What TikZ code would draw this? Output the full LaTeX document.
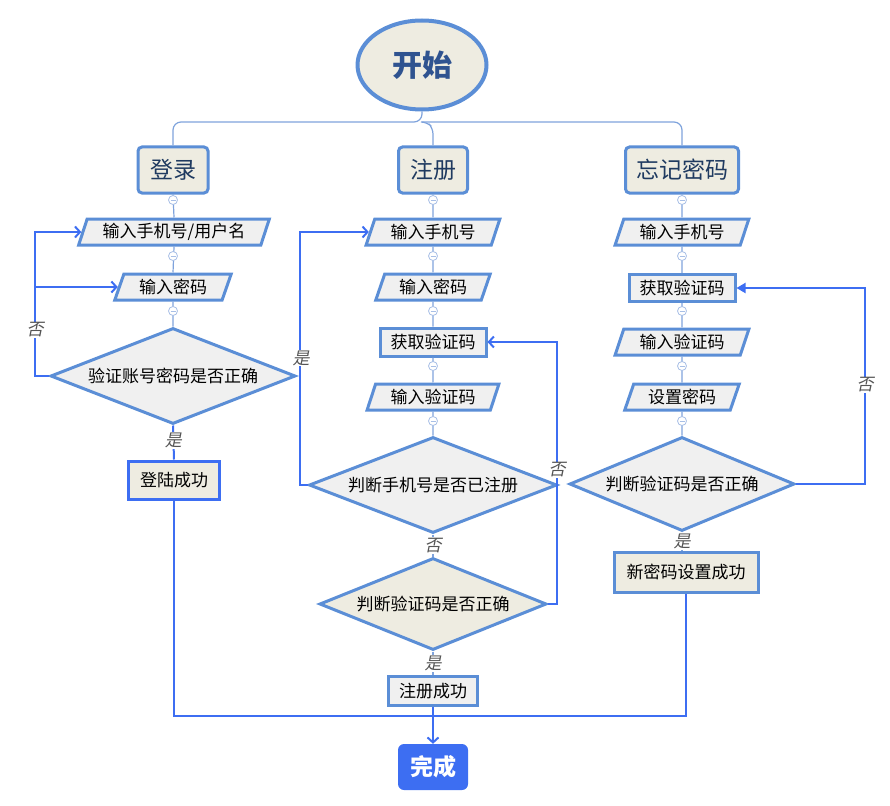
\documentclass[tikz,border=0pt]{standalone}
\usepackage{fontspec}
\setmainfont{Noto Sans CJK SC}
\newfontfamily\slantfont[FakeSlant=0.2]{Noto Sans CJK SC}
\usetikzlibrary{shapes.geometric,arrows.meta}
\definecolor{bordblue}{HTML}{5B8ED6}
\definecolor{linkblue}{HTML}{3D6EF2}
\definecolor{beige}{HTML}{EEECE1}
\definecolor{lgray}{HTML}{F0F0F0}
\definecolor{navy}{HTML}{1F3A60}
\definecolor{titleblue}{HTML}{2F5390}
\definecolor{treeline}{HTML}{7FA3DC}
\definecolor{collblue}{HTML}{A8BFE6}
\definecolor{lblgray}{HTML}{555555}
\begin{document}
\begin{tikzpicture}[x=1pt,y=-1pt,font=\fontsize{17}{19}\selectfont,
  para/.style={trapezium,trapezium left angle=70,trapezium right angle=110,trapezium stretches=true,
    draw=bordblue,line width=3pt,fill=lgray,minimum height=26pt,inner sep=1pt},
  procbox/.style={rectangle,draw=bordblue,line width=3pt,fill=lgray,inner sep=1pt},
  titlebox/.style={rectangle,rounded corners=4pt,draw=bordblue,line width=3pt,fill=beige,
    text=navy,font=\fontsize{23}{25}\selectfont,minimum height=46pt,inner sep=1pt},
  decision/.style={diamond,draw=bordblue,line width=3pt,fill=lgray,inner sep=0pt,shape aspect=2.5},
  coll/.style={circle,draw=collblue,fill=white,line width=0.8pt,minimum size=9pt,inner sep=0pt,
    path picture={\draw[collblue,line width=0.8pt]
      ([xshift=-2.5pt]path picture bounding box.center) -- ([xshift=2.5pt]path picture bounding box.center);}},
  tree/.style={draw=treeline,line width=1.2pt},
  link/.style={draw=linkblue,line width=2pt},
  openarrow/.style={-{Straight Barb[length=5pt,width=11pt,line width=2pt]}},
  fillarrow/.style={-{Triangle[length=9pt,width=10pt]}},
  yn/.style={fill=white,inner sep=1pt,text=lblgray,font=\slantfont\fontsize{17}{19}\selectfont}
]
\useasboundingbox (0,0) rectangle (890,805);

% start
\node[ellipse,draw=bordblue,line width=4pt,fill=beige,minimum width=129pt,minimum height=89pt,
  text=titleblue,font=\bfseries\fontsize{30}{32}\selectfont] (start) at (422,65) {开始};

% titles
\node[titlebox,minimum width=70pt] (tL) at (173,170) {登录};
\node[titlebox,minimum width=69pt] (tM) at (433,170) {注册};
\node[titlebox,minimum width=113pt] (tR) at (682,170) {忘记密码};

% left column
\node[para,minimum width=191pt] (pL1) at (174,232) {输入手机号/用户名};
\node[para,minimum width=117pt] (pL2) at (173,287) {输入密码};
\node[decision,minimum width=245pt,minimum height=96pt] (d1) at (173,376) {验证账号密码是否正确};
\node[procbox,draw=linkblue,fill=beige,minimum width=91pt,minimum height=38pt] (sL) at (174,480) {登陆成功};

% middle column
\node[para,minimum width=134pt] (pM1) at (433,232) {输入手机号};
\node[para,minimum width=115pt] (pM2) at (433,287) {输入密码};
\node[procbox,minimum width=106pt,minimum height=28pt] (rM) at (433,342) {获取验证码};
\node[para,minimum width=132pt] (pM3) at (433,397) {输入验证码};
\node[decision,minimum width=248pt,minimum height=96pt] (d2) at (433,485) {判断手机号是否已注册};
\node[decision,fill=beige,minimum width=227pt,minimum height=92pt] (d3) at (433,604) {判断验证码是否正确};
\node[procbox,minimum width=89pt,minimum height=29pt] (sM) at (433,691) {注册成功};

% right column
\node[para,minimum width=134pt] (pR1) at (682,232) {输入手机号};
\node[procbox,minimum width=106pt,minimum height=27pt] (rR) at (682,288) {获取验证码};
\node[para,minimum width=134pt] (pR2) at (682,342) {输入验证码};
\node[para,minimum width=115pt] (pR3) at (682,397) {设置密码};
\node[decision,minimum width=225pt,minimum height=94pt] (d4) at (682,484) {判断验证码是否正确};
\node[procbox,fill=beige,minimum width=144pt,minimum height=40pt] (sR) at (686,572) {新密码设置成功};

% end
\node[rectangle,rounded corners=6pt,fill=linkblue,text=white,minimum width=70pt,minimum height=46pt,
  font=\bfseries\fontsize{23}{25}\selectfont] (done) at (433,767) {完成};

% tree from start
\coordinate (hub) at (422,122);
\draw[tree,rounded corners=8pt] (start.south) -- (hub) -| (tL.north);
\draw[tree,rounded corners=8pt] (hub) -| (tR.north);
\draw[tree,rounded corners=6pt] (hub) -- (427,122) -- (433,128) -- (tM.north);

% column lines
\draw[tree] (tL.south) -- (pL1.north);
\draw[tree] (pL1.south) -- (pL2.north);
\draw[tree] (pL2.south) -- (d1.north);
\draw[tree] (tM.south) -- (pM1.north);
\draw[tree] (pM1.south) -- (pM2.north);
\draw[tree] (pM2.south) -- (rM.north);
\draw[tree] (rM.south) -- (pM3.north);
\draw[tree] (pM3.south) -- (d2.north);
\draw[tree] (tR.south) -- (pR1.north);
\draw[tree] (pR1.south) -- (rR.north);
\draw[tree] (rR.south) -- (pR2.north);
\draw[tree] (pR2.south) -- (pR3.north);
\draw[tree] (pR3.south) -- (d4.north);

% collapse markers
\node[coll] (cL1) at (173,200) {};
\node[coll] (cL2) at (173,256) {};
\node[coll] (cL3) at (173,311) {};
\node[coll] (cM1) at (433,200) {};
\node[coll] (cM2) at (433,256) {};
\node[coll] (cM3) at (433,311) {};
\node[coll] (cM4) at (433,366) {};
\node[coll] (cM5) at (433,421) {};
\node[coll] (cR1) at (682,200) {};
\node[coll] (cR2) at (682,256) {};
\node[coll] (cR3) at (682,311) {};
\node[coll] (cR4) at (682,366) {};
\node[coll] (cR5) at (682,421) {};

% left decisions
\coordinate (lx) at (35,376);
\draw[link,openarrow] (d1.west) -- (lx) |- (pL1.west);
\draw[link,openarrow] (lx |- pL2.west) -- (pL2.west);
\node[yn] (nL) at (35,330) {否};
\draw[link] (d1.south) -- (sL.north) node[yn,pos=0.45] (yL) {是};

% middle decisions
\coordinate (mx) at (300,485);
\draw[link,openarrow] (d2.west) -- (mx) |- (pM1.west);
\node[yn] (yM) at (301,358) {是};
\draw[tree] (d2.south) -- (d3.north) node[yn,midway] (nM) {否};
\coordinate (mx2) at (557,604);
\draw[link,openarrow] (d3.east) -- (mx2) |- (rM.east);
\node[yn] (nM2) at (557,470) {否};
\draw[tree] (d3.south) -- (sM.north) node[yn,midway] (yM2) {是};

% right decisions
\coordinate (rx) at (865,484);
\draw[link,fillarrow] (d4.east) -- (rx) |- (rR.east);
\node[yn] (nR) at (865,385) {否};
\draw[tree] (d4.south) -- (d4.south |- sR.north) node[yn,midway] (yR) {是};

% merge to end
\coordinate (merge) at (433,716);
\draw[link] (sL.south) |- (merge);
\draw[link] (sR.south) |- (merge);
\draw[link,openarrow] (sM.south) -- (done.north);
\end{tikzpicture}
\end{document}
